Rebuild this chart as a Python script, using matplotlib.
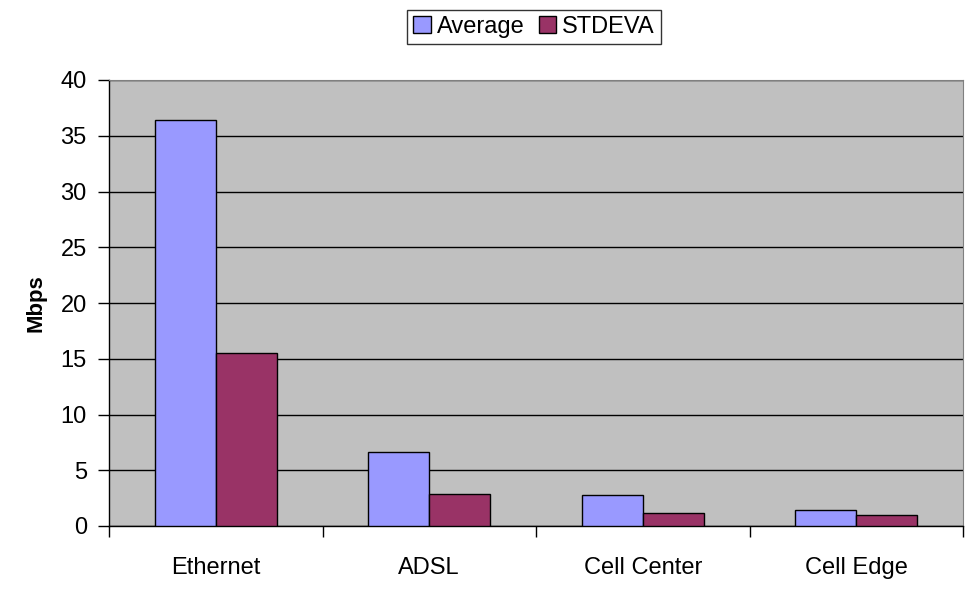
import matplotlib.pyplot as plt
import numpy as np

plt.rcParams['font.family'] = ['Liberation Sans', 'DejaVu Sans']

# Данные
categories = ['Ethernet', 'ADSL', 'Cell Center', 'Cell Edge']
average = [36.4, 6.65, 2.75, 1.4]
stdeva = [15.55, 2.85, 1.15, 0.95]

fig = plt.figure(figsize=(9.77, 6.0), dpi=100)
ax = fig.add_axes([109 / 977, 1 - 526 / 600, (963 - 109) / 977, (526 - 80) / 600])
ax.set_facecolor('#C0C0C0')

x = np.arange(len(categories))
w = 0.286
ax.bar(x - w / 2, average, w, color='#9999FF', edgecolor='black', linewidth=1, label='Average', zorder=3)
ax.bar(x + w / 2, stdeva, w, color='#993366', edgecolor='black', linewidth=1, label='STDEVA', zorder=3)

ax.set_xlim(-0.5, len(categories) - 0.5)
ax.set_ylim(0, 40)
ax.set_yticks(range(0, 41, 5))
ax.yaxis.grid(True, color='black', linewidth=1, zorder=1)

# Метки категорий между делениями
ax.set_xticks(np.arange(-0.5, len(categories) + 0.5, 1))
ax.set_xticklabels([])
ax.set_xticks(x, minor=True)
ax.set_xticklabels(categories, minor=True)
ax.tick_params(axis='x', which='minor', length=0, pad=22, labelsize=17)
ax.tick_params(axis='x', which='major', length=8, direction='out', width=1)
ax.tick_params(axis='y', length=8, direction='out', width=1, labelsize=17, pad=8)

for side in ['top', 'right']:
    ax.spines[side].set_color('#808080')
for side in ['left', 'bottom']:
    ax.spines[side].set_color('black')
    ax.spines[side].set_linewidth(1)

ax.set_ylabel('Mbps', fontsize=16, fontweight='bold', labelpad=10)

leg = fig.legend(loc='center', bbox_to_anchor=(534 / 977, 1 - 27 / 600), ncol=2,
                 fontsize=17, frameon=True, fancybox=False, edgecolor='black',
                 handlelength=0.75, handleheight=0.75, handletextpad=0.25,
                 columnspacing=0.6, borderpad=0.25)
leg.get_frame().set_linewidth(1)

plt.savefig('out.png', dpi=100)
plt.close()
